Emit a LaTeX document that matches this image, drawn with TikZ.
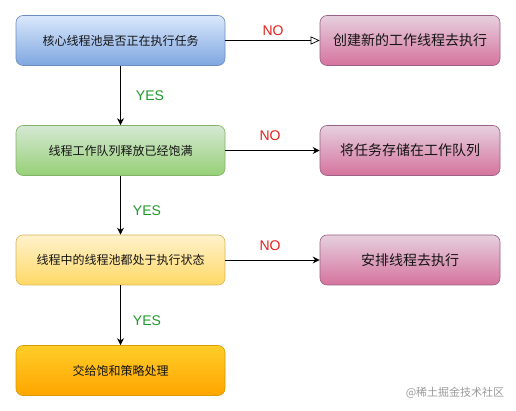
\documentclass[tikz,border=0pt]{standalone}
\usepackage{fontspec}
\setmainfont{Liberation Sans}
\newfontfamily\cjk{Noto Sans CJK SC}
\usetikzlibrary{arrows.meta}
\definecolor{blueT}{HTML}{DAE8FC}\definecolor{blueB}{HTML}{7EA6E0}\definecolor{blueD}{HTML}{6C8EBF}
\definecolor{greenT}{HTML}{D5E8D4}\definecolor{greenB}{HTML}{97D077}\definecolor{greenD}{HTML}{82B366}
\definecolor{yelT}{HTML}{FFF2CC}\definecolor{yelB}{HTML}{FFD966}\definecolor{yelD}{HTML}{D6B656}
\definecolor{oraT}{HTML}{FFCD28}\definecolor{oraB}{HTML}{FFA500}\definecolor{oraD}{HTML}{D79B00}
\definecolor{pinkT}{HTML}{E6D0DE}\definecolor{pinkB}{HTML}{D5739D}\definecolor{pinkD}{HTML}{996185}
\definecolor{noRed}{HTML}{E0201B}\definecolor{yesGreen}{HTML}{1E9A2A}
\tikzset{
  x=1pt,y=-1pt,
  box/.style={rounded corners=7pt, minimum height=50pt, inner sep=0pt, line width=0.6pt, font=\cjk\fontsize{12}{14}\selectfont, text=black!92},
  lbox/.style={box, minimum width=209pt},
  rbox/.style={box, minimum width=180pt, top color=pinkT, bottom color=pinkB, draw=pinkD, font=\cjk\fontsize{14}{16}\selectfont},
  conn/.style={line width=0.7pt, -{Stealth[length=7pt,width=7pt]}},
  yes/.style={text=yesGreen, font=\fontsize{14}{16}\selectfont},
  no/.style={text=noRed, font=\fontsize{14}{16}\selectfont},
}
\begin{document}
\begin{tikzpicture}
\useasboundingbox (0,0) rectangle (516,411);
\node[lbox, top color=blueT, bottom color=blueB, draw=blueD] (b1) at (120.5,40.5) {核心线程池是否正在执行任务};
\node[lbox, top color=greenT, bottom color=greenB, draw=greenD] (b2) at (120.5,150.5) {线程工作队列释放已经饱满};
\node[lbox, top color=yelT, bottom color=yelB, draw=yelD] (b3) at (120.5,260) {线程中的线程池都处于执行状态};
\node[lbox, top color=oraT, bottom color=oraB, draw=oraD] (b4) at (120.5,370.5) {交给饱和策略处理};
\node[rbox] (r1) at (410,40.5) {创建新的工作线程去执行};
\node[rbox] (r2) at (410,150.5) {将任务存储在工作队列};
\node[rbox] (r3) at (410,260) {安排线程去执行};
\draw[line width=0.7pt, -{Triangle[open,length=9pt,width=8pt]}] (b1) -- (r1);
\draw[conn] (b2) -- (r2);
\draw[conn] (b3) -- (r3);
\draw[conn] (b1) -- (b2);
\draw[conn] (b2) -- (b3);
\draw[conn] (b3) -- (b4);
\node[no] (n1) at (273,31) {NO};
\node[no] (n2) at (270,136) {NO};
\node[no] (n3) at (270,246) {NO};
\node[yes] (y1) at (150,96) {YES};
\node[yes] (y2) at (147,211) {YES};
\node[yes] (y3) at (147,321) {YES};
\node[text=black!40, font=\cjk\fontsize{11}{13}\selectfont] (wm) at (455,393) {@稀土掘金技术社区};
\end{tikzpicture}
\end{document}
